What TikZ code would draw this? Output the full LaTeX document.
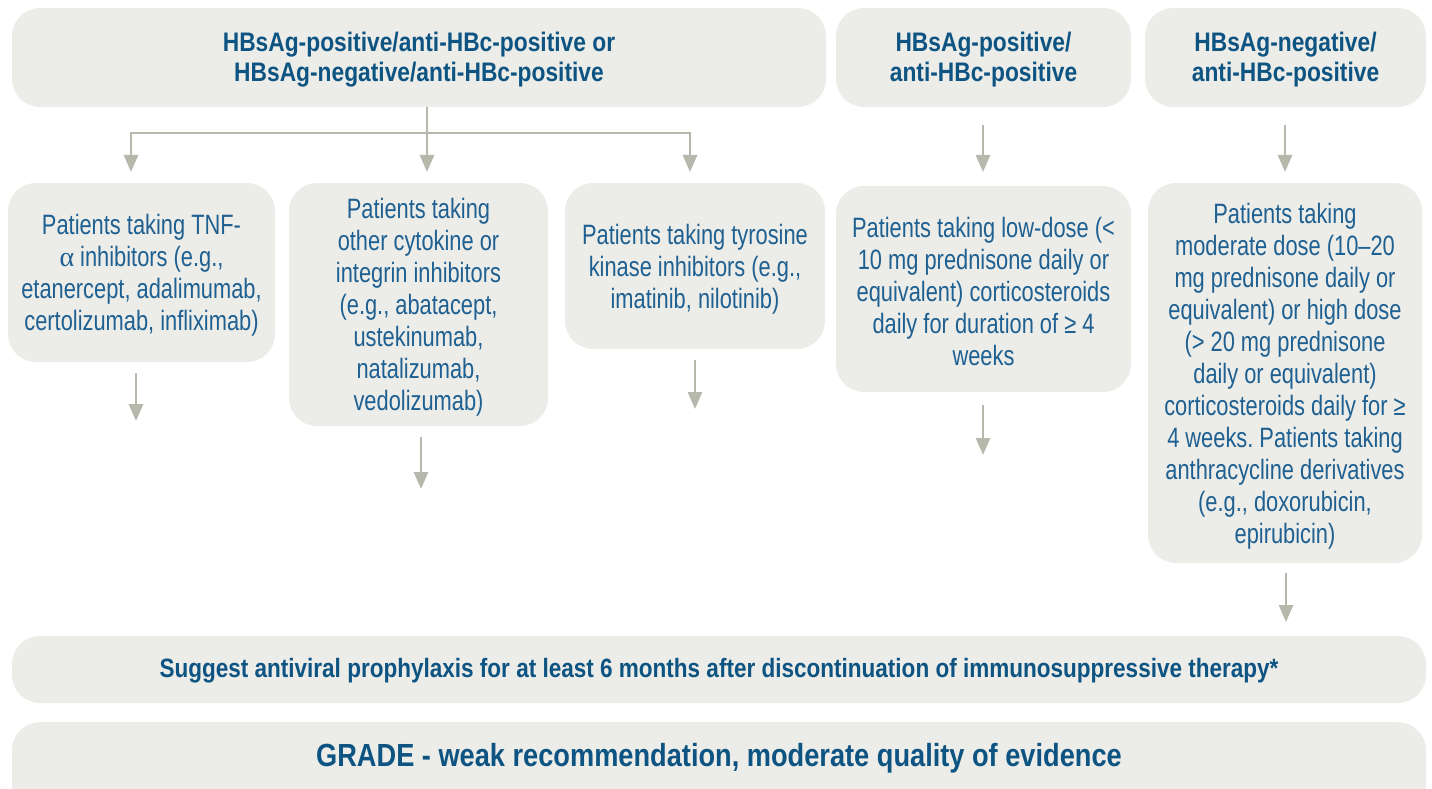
\documentclass[tikz,border=0pt]{standalone}
\usepackage{fontspec}
\setmainfont{Liberation Sans}[FakeStretch=0.78]
\newfontfamily\boldcond{Liberation Sans}[FakeStretch=0.85]
\newfontfamily\greekfont{Liberation Serif}
\usetikzlibrary{arrows.meta,calc}
\definecolor{boxfill}{HTML}{ECECE8}
\definecolor{arrowgray}{HTML}{B7B8AC}
\definecolor{txtblue}{RGB}{30,96,145}
\definecolor{hdrblue}{RGB}{14,84,130}
\tikzset{
  box/.style={fill=boxfill, draw=none, rounded corners=28pt, inner sep=0pt},
  hdrtext/.style={text=hdrblue, inner sep=0pt, align=center, font=\boldcond\bfseries\fontsize{26.8}{30}\selectfont},
  bodytext/.style={text=txtblue, inner sep=0pt, align=center, font=\fontsize{28}{32}\selectfont},
  conn/.style={draw=arrowgray, line width=2.8pt},
  arr/.style={conn, -{Triangle[width=14pt,length=17pt]}}
}
\begin{document}
\frenchspacing
\begin{tikzpicture}[x=1pt,y=-1pt]
\clip (0,0) rectangle (1432,789);
% header boxes
\node[box, minimum width=814pt, minimum height=99pt] (A) at (419,57.5) {};
\node[box, minimum width=295pt, minimum height=99pt] (B) at (983.5,57.5) {};
\node[box, minimum width=281pt, minimum height=99pt] (C) at (1285.5,57.5) {};
\node[hdrtext] (At) at ($(A.center)+(0,2)$) {HBsAg-positive/anti-HBc-positive or\\HBsAg-negative/anti-HBc-positive};
\node[hdrtext] (Bt) at ($(B.center)+(0,2)$) {HBsAg-positive/\\anti-HBc-positive};
\node[hdrtext] (Ct) at ($(C.center)+(0,2)$) {HBsAg-negative/\\anti-HBc-positive};
% patient boxes
\node[box, minimum width=267pt, minimum height=179pt] (b1) at (141.5,272.5) {};
\node[box, minimum width=259pt, minimum height=243pt] (b2) at (418.5,304.5) {};
\node[box, minimum width=260pt, minimum height=166pt] (b3) at (695,266) {};
\node[box, minimum width=295pt, minimum height=206pt] (b4) at (983.5,289) {};
\node[box, minimum width=274pt, minimum height=380pt] (b5) at (1285,373) {};
\node[bodytext] (b1t) at ($(b1.center)+(0,3)$)
 {Patients taking TNF-\\{\greekfont α} inhibitors (e.g.,\\etanercept, adalimumab,\\certolizumab, infliximab)};
\node[bodytext] (b2t) at ($(b2.center)+(0,3)$)
 {Patients taking\\other cytokine or\\integrin inhibitors\\(e.g., abatacept,\\ustekinumab,\\natalizumab,\\vedolizumab)};
\node[bodytext] (b3t) at ($(b3.center)+(0,3)$)
 {Patients taking tyrosine\\kinase inhibitors (e.g.,\\imatinib, nilotinib)};
\node[bodytext] (b4t) at ($(b4.center)+(0,2)$)
 {Patients taking low-dose (<\\10 mg prednisone daily or\\equivalent) corticosteroids\\daily for duration of ≥ 4\\weeks};
\node[bodytext] (b5t) at ($(b5.center)+(0,3)$)
 {Patients taking\\moderate dose (10–20\\mg prednisone daily or\\equivalent) or high dose\\(> 20 mg prednisone\\daily or equivalent)\\corticosteroids daily for ≥\\4 weeks. Patients taking\\anthracycline derivatives\\(e.g., doxorubicin,\\epirubicin)};
% bottom boxes
\node[box, minimum width=1414pt, minimum height=67pt] (S) at (719,669.5) {};
\node[text=hdrblue, inner sep=0pt, anchor=base, font=\boldcond\bfseries\fontsize{26.5}{30}\selectfont] (St) at ($(S.center)+(0,8.2)$)
 {Suggest antiviral prophylaxis for at least 6 months after discontinuation of immunosuppressive therapy*};
\node[box, minimum width=1414pt, minimum height=118pt, anchor=north] (G) at (719,722) {};
\node[text=hdrblue, inner sep=0pt, anchor=base, font=\boldcond\bfseries\fontsize{32}{36}\selectfont] (Gt) at (719,766.7)
 {GRADE - weak recommendation, moderate quality of evidence};
% connectors from A
\coordinate (j) at (427,133);
\coordinate (t1) at (131,172);
\coordinate (t2) at (427,172);
\coordinate (t3) at (690,172);
\draw[arr] (A.south -| j) -- (t2);
\draw[arr, line join=miter] (j) -| (t1);
\draw[arr, line join=miter] (j) -| (t3);
% connectors from B and C
\coordinate (t4) at (983,172);
\coordinate (t5) at (1285,172);
\draw[arr] ($(B.south -| t4)+(0,18)$) -- (t4);
\draw[arr] ($(C.south -| t5)+(0,18)$) -- (t5);
% free arrows below patient boxes
\coordinate (o1) at (136,421);
\coordinate (o2) at (421,489);
\coordinate (o3) at (695,409);
\coordinate (o4) at (983,455);
\coordinate (o5) at (1286,622);
\draw[arr] ($(b1.south -| o1)+(0,11)$) -- (o1);
\draw[arr] ($(b2.south -| o2)+(0,11)$) -- (o2);
\draw[arr] ($(b3.south -| o3)+(0,11)$) -- (o3);
\draw[arr] ($(b4.south -| o4)+(0,13)$) -- (o4);
\draw[arr] ($(b5.south -| o5)+(0,10)$) -- (o5);
\end{tikzpicture}
\end{document}
